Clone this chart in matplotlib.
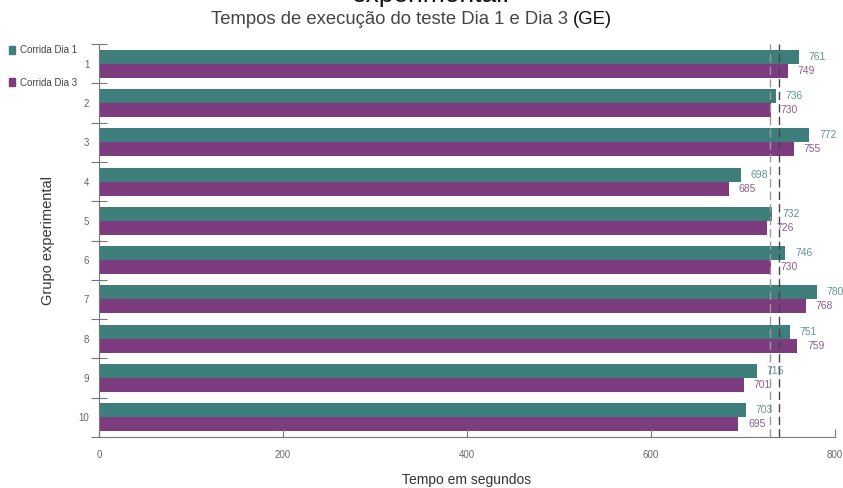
import matplotlib.pyplot as plt
import numpy as np
from matplotlib.patches import Patch

plt.rcParams["font.family"] = ["Liberation Sans", "DejaVu Sans"]

GROUPS = ["1", "2", "3", "4", "5", "6", "7", "8", "9", "10"]
DAY1 = [761, 736, 772, 698, 732, 746, 780, 751, 715, 703]
DAY3 = [749, 730, 755, 685, 726, 730, 768, 759, 701, 695]
SERIES_LABELS = ["Corrida Dia 1", "Corrida Dia 3"]
X_TICKS = [0, 200, 400, 600, 800]

TEAL = "#3e7f7b"
PURPLE = "#7e3c80"
TEAL_TXT = "#5f9593"
PURPLE_TXT = "#8c5f8e"
GREY = "#666666"

W, H = 843, 488
fig = plt.figure(figsize=(W / 100, H / 100), dpi=100)
ax = fig.add_axes([99 / W, 51 / H, 736 / W, 393 / H])

y = np.arange(1, len(GROUPS) + 1)
bh = 0.356
ax.barh(y - bh / 2, DAY1, height=bh, color=TEAL, label=SERIES_LABELS[0])
ax.barh(y + bh / 2, DAY3, height=bh, color=PURPLE, label=SERIES_LABELS[1])

for yi, v in zip(y, DAY1):
    ax.annotate(str(v), (v, yi - bh / 2), xytext=(7, 0), textcoords="offset points",
                va="center", ha="left", fontsize=7.5, color=TEAL_TXT)
for yi, v in zip(y, DAY3):
    ax.annotate(str(v), (v, yi + bh / 2), xytext=(7, 0), textcoords="offset points",
                va="center", ha="left", fontsize=7.5, color=PURPLE_TXT)

# mean lines
ax.axvline(np.mean(DAY3), color="#999999", linestyle=(0, (6, 3)), linewidth=1)
ax.axvline(np.mean(DAY1), color="#444444", linestyle=(0, (6, 3)), linewidth=1)

ax.set_xlim(0, 800)
ax.set_ylim(len(GROUPS) + 0.5, 0.5)
ax.set_xticks(X_TICKS)
ax.set_yticks(y)
ax.set_yticklabels(GROUPS)
ax.set_yticks(np.arange(0.5, len(GROUPS) + 1, 1), minor=True)
ax.tick_params(axis="y", which="major", length=0, pad=7, labelsize=7, labelcolor=GREY)
ax.tick_params(axis="y", which="minor", direction="inout", length=12, color="#777777", width=0.8)
ax.tick_params(axis="x", direction="in", length=6, color="#777777", width=0.8,
               pad=9, labelsize=7, labelcolor=GREY)
for s in ["top", "right"]:
    ax.spines[s].set_visible(False)
for s in ["left", "bottom"]:
    ax.spines[s].set_color("#777777")
    ax.spines[s].set_linewidth(0.8)

ax.set_xlabel("Tempo em segundos", fontsize=10, color="#333333", labelpad=10)
ax.set_ylabel("Grupo experimental", fontsize=10.5, color="#333333", labelpad=17)

handles = [Patch(color=TEAL), Patch(color=PURPLE)]
fig.legend(handles, SERIES_LABELS, loc="upper left", bbox_to_anchor=(0.0, 0.925),
           frameon=False, fontsize=7, handlelength=0.6, handleheight=0.9,
           handletextpad=0.6, labelspacing=2.3, labelcolor="#444444")

# titles
fig.text(431 / W, 1 - 2 / H, "experimental.", ha="center", va="baseline",
         fontsize=19, color="#111111")
t1 = fig.text(211 / W, 1 - 24 / H, "Tempos de execução do teste Dia 1 e Dia 3 ",
              ha="left", va="baseline", fontsize=13.3, color="#444444")
fig.canvas.draw()
bb = t1.get_window_extent()
fig.text(bb.x1 / W, 1 - 24 / H, "(GE)", ha="left", va="baseline", fontsize=13.3,
         color="#111111")

fig.savefig("out.png", dpi=100)
